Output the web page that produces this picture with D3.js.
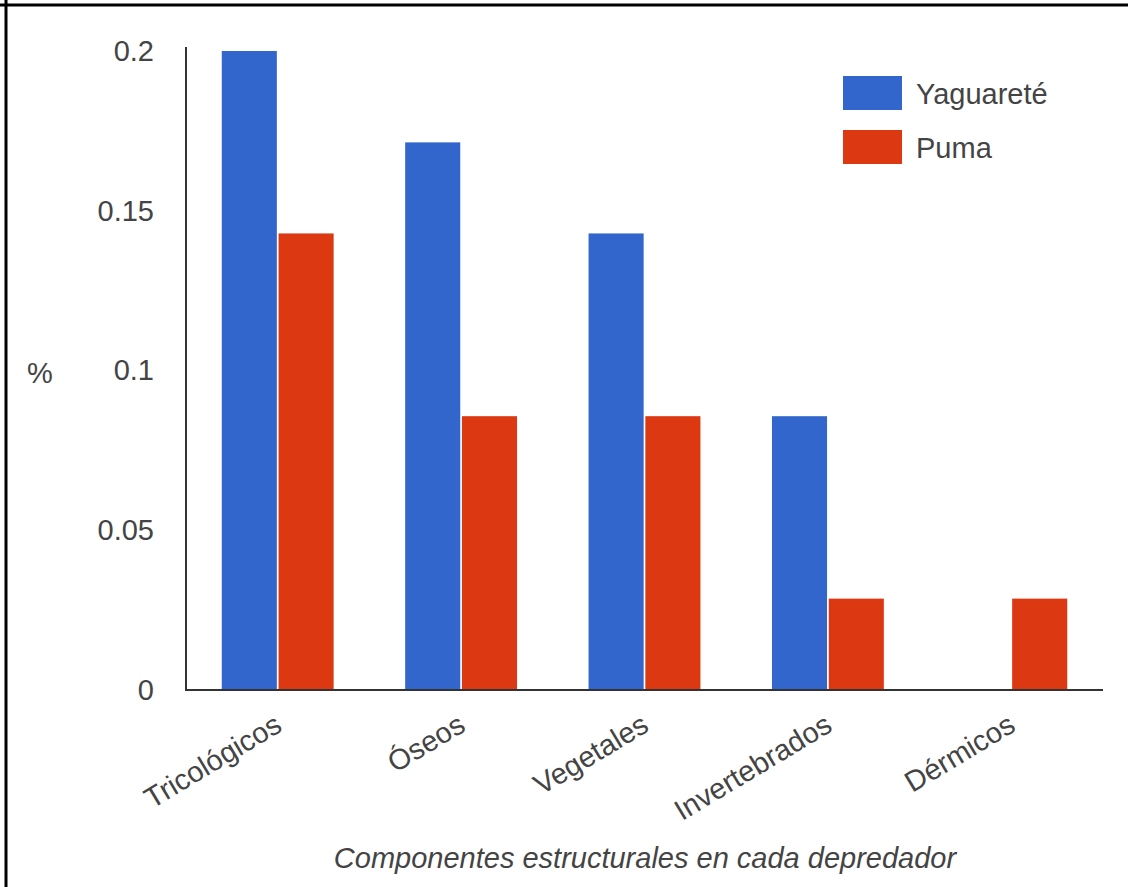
<!DOCTYPE html>
<html>
<head>
<meta charset="utf-8">
<script src="https://cdn.jsdelivr.net/npm/d3@7"></script>
<style>
  html, body { margin: 0; padding: 0; background: #fff; }
  svg { display: block; }
  text { font-family: "Liberation Sans", Arial, sans-serif; fill: #444; }
</style>
</head>
<body>
<svg id="chart" width="1128" height="887"></svg>
<script>
// Structural components found in each predator's diet
const categories = ["Tricológicos", "Óseos", "Vegetales", "Invertebrados", "Dérmicos"];
const seriesNames = ["Yaguareté", "Puma"];
const yaguarete = [0.2, 0.1714, 0.1429, 0.0857, 0];
const puma = [0.1429, 0.0857, 0.0857, 0.0286, 0.0286];
const yTicks = [0, 0.05, 0.1, 0.15, 0.2];
const yTitle = "%";
const xTitle = "Componentes estructurales en cada depredador";
const colors = ["#3366cc", "#dc3912"];

const seriesValues = [yaguarete, puma];
const rows = categories.map((c, i) => ({
  category: c,
  values: seriesNames.map((s, k) => ({ series: s, value: seriesValues[k][i] }))
}));

const svg = d3.select("#chart");
const plotLeft = 186, plotRight = 1103, plotTop = 51, plotBottom = 690;

// frame lines along the top and left edges
svg.append("line").attr("x1", 0).attr("x2", 1128).attr("y1", 5).attr("y2", 5)
  .attr("stroke", "#000").attr("stroke-width", 3);
svg.append("line").attr("x1", 6).attr("x2", 6).attr("y1", 0).attr("y2", 887)
  .attr("stroke", "#000").attr("stroke-width", 3);

const x0 = d3.scaleBand().domain(categories).range([plotLeft, plotRight])
  .paddingInner(0.39).paddingOuter(0.195);
const x1 = d3.scaleBand().domain(seriesNames).range([0, x0.bandwidth()]).paddingInner(0.03);
const y = d3.scaleLinear().domain([0, 0.2]).range([plotBottom, plotTop]);
const color = d3.scaleOrdinal().domain(seriesNames).range(colors);

// bars
const groups = svg.append("g").selectAll("g").data(rows).join("g")
  .attr("transform", d => `translate(${x0(d.category)},0)`);
groups.selectAll("rect").data(d => d.values.filter(v => v.value > 0)).join("rect")
  .attr("x", d => x1(d.series))
  .attr("y", d => y(d.value))
  .attr("width", x1.bandwidth())
  .attr("height", d => y(0) - y(d.value))
  .attr("fill", d => color(d.series));

// y axis
const yAxis = svg.append("g").attr("transform", `translate(${plotLeft},0)`)
  .call(d3.axisLeft(y).tickValues(yTicks).tickSize(0).tickPadding(32).tickFormat(d3.format("")));
yAxis.select(".domain").remove();
yAxis.selectAll("text").attr("font-size", 29).attr("fill", "#4a4a4a")
  .style("font-family", "'Liberation Sans', Arial, sans-serif");
svg.append("line").attr("x1", plotLeft).attr("x2", plotLeft).attr("y1", 47).attr("y2", plotBottom + 1)
  .attr("stroke", "#333").attr("stroke-width", 2);

// x axis line
svg.append("line").attr("x1", plotLeft - 1).attr("x2", plotRight).attr("y1", plotBottom).attr("y2", plotBottom)
  .attr("stroke", "#333").attr("stroke-width", 2);

// x category labels, rotated
svg.append("g").selectAll("text").data(categories).join("text")
  .attr("transform", d => `translate(${x0(d) + x0.bandwidth() / 2 + 6},${plotBottom + 40}) rotate(-31)`)
  .attr("text-anchor", "end")
  .attr("font-size", 29)
  .text(d => d);

// axis titles
svg.append("text").attr("x", 40).attr("y", 383).attr("text-anchor", "middle")
  .attr("font-size", 29).text(yTitle);
svg.append("text").attr("x", 645).attr("y", 868).attr("text-anchor", "middle")
  .attr("font-size", 29).attr("font-style", "italic").text(xTitle);

// legend
const legend = svg.append("g").selectAll("g").data(seriesNames).join("g")
  .attr("transform", (d, i) => `translate(843,${76 + i * 54})`);
legend.append("rect").attr("width", 59).attr("height", 34).attr("fill", d => color(d));
legend.append("text").attr("x", 73).attr("y", 28).attr("font-size", 29).text(d => d);
</script>
</body>
</html>
